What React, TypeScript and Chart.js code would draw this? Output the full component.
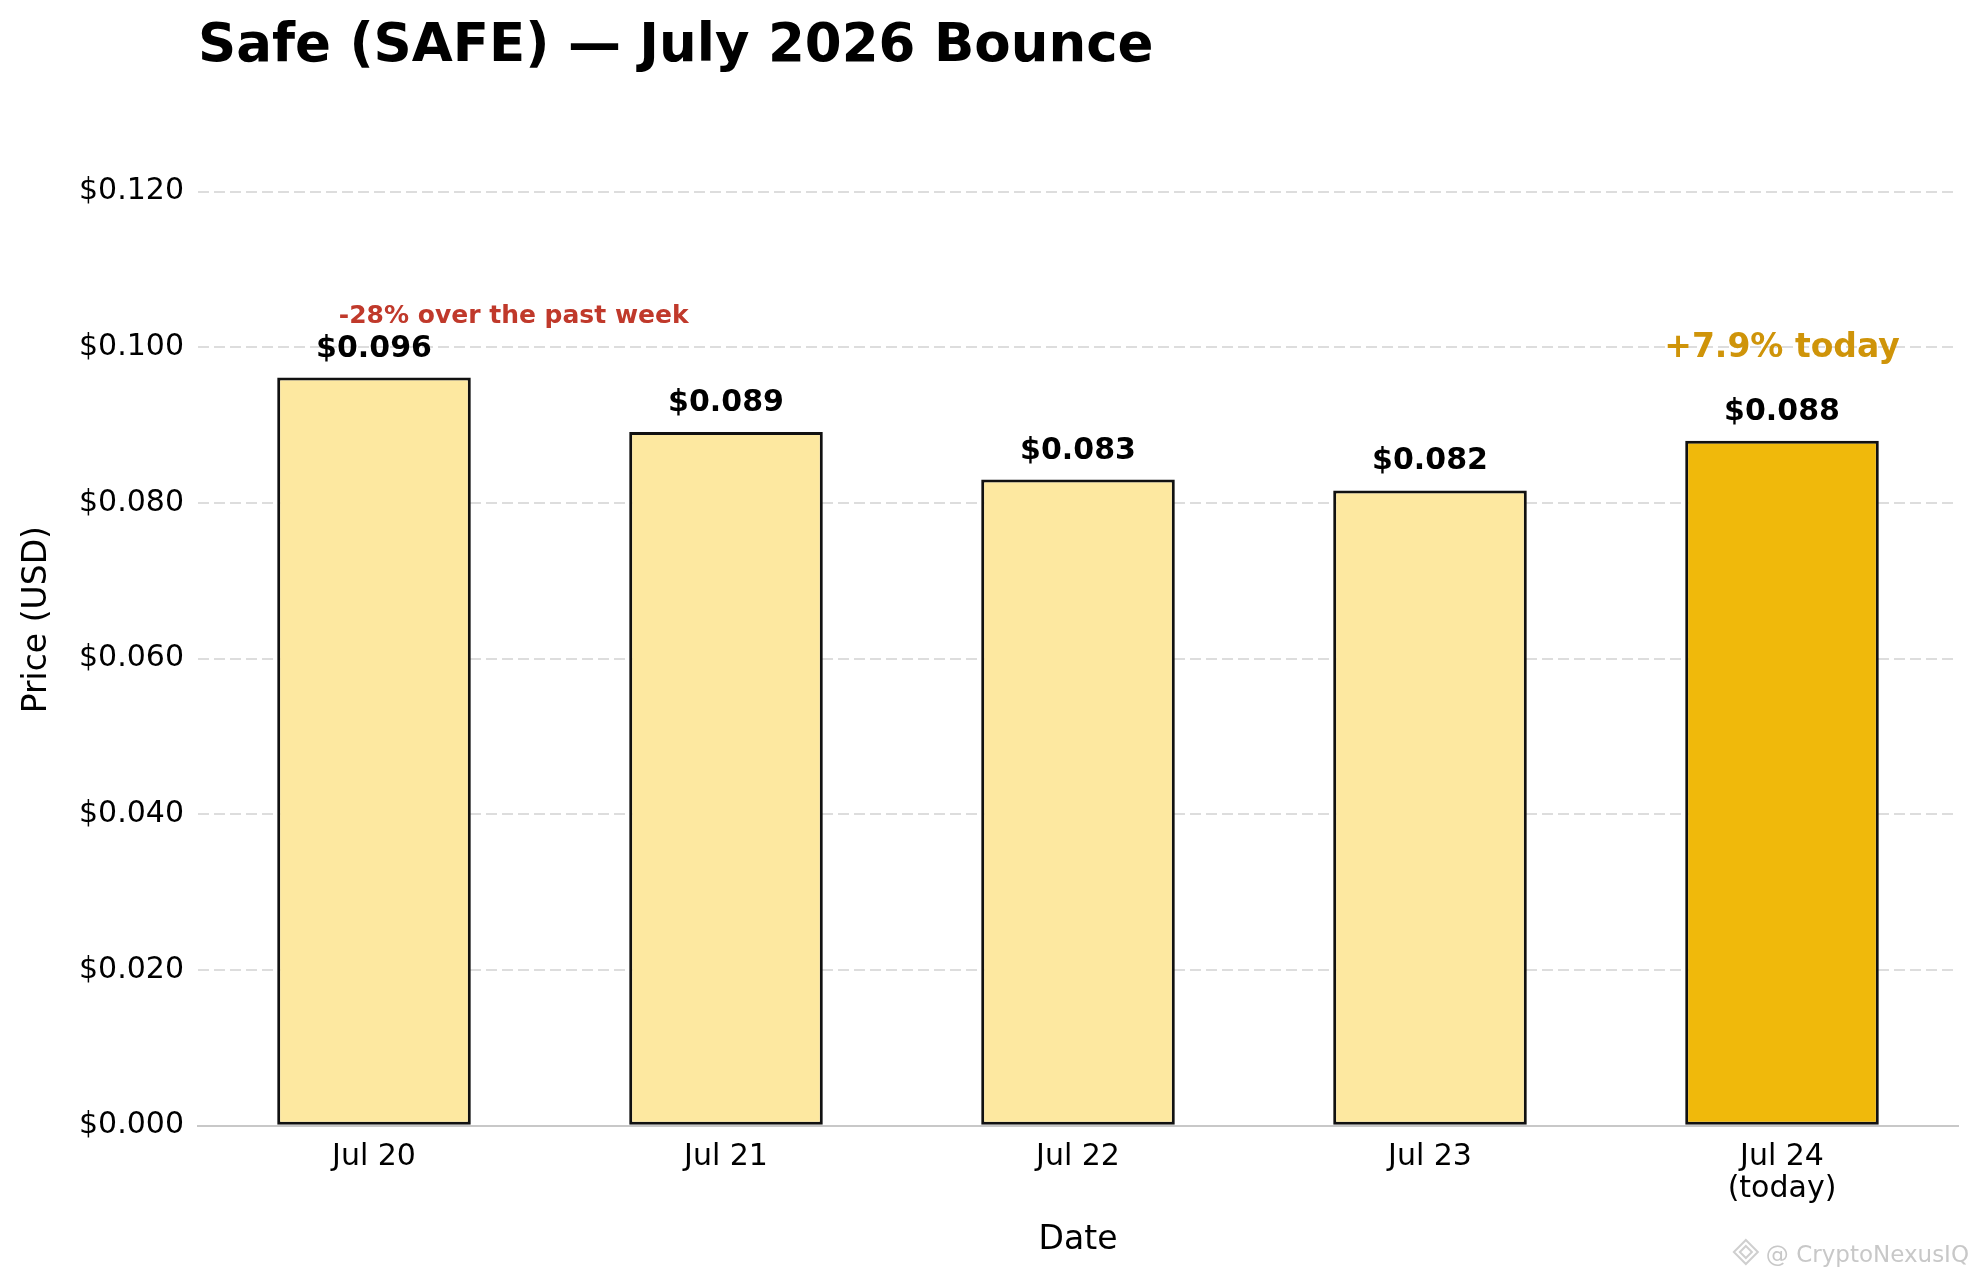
import { useEffect, useRef } from 'react';
import { Chart, registerables } from 'chart.js';

Chart.register(...registerables);

const chartTitle = 'Safe (SAFE) — July 2026 Bounce';
const dates = ['Jul 20', 'Jul 21', 'Jul 22', 'Jul 23', ['Jul 24', '(today)']];
const prices = [0.0961, 0.0891, 0.083, 0.0816, 0.088];
const barColors = ['#fde8a0', '#fde8a0', '#fde8a0', '#fde8a0', '#f0b90b'];
const yTicks = [0, 0.02, 0.04, 0.06, 0.08, 0.1, 0.12];
const weekNote = '-28% over the past week';
const weekNoteY = 0.1031;
const todayNote = '+7.9% today';
const todayNoteY = 0.0987;
const watermark = '@ CryptoNexusIQ';

const FONT = '"DejaVu Sans", Verdana, sans-serif';

const overlay = {
    id: 'overlay',
    afterDatasetsDraw(chart: Chart) {
        const { ctx, chartArea } = chart;
        const x = chart.scales.x;
        const y = chart.scales.y;
        const meta = chart.getDatasetMeta(0);
        ctx.save();

        // value labels above bars
        ctx.fillStyle = '#000';
        ctx.font = `bold 30px ${FONT}`;
        ctx.textAlign = 'center';
        ctx.textBaseline = 'alphabetic';
        meta.data.forEach((bar: any, i: number) => {
            ctx.fillText(`$${prices[i].toFixed(3)}`, bar.x, bar.y - 21);
        });

        const step = x.getPixelForValue(1) - x.getPixelForValue(0);

        ctx.font = `bold 25px ${FONT}`;
        ctx.fillStyle = '#c0392b';
        ctx.textAlign = 'left';
        ctx.fillText(weekNote, x.getPixelForValue(0) - 0.1 * step, y.getPixelForValue(weekNoteY));

        ctx.font = `bold 33px ${FONT}`;
        ctx.fillStyle = '#cf9409';
        ctx.textAlign = 'center';
        ctx.fillText(todayNote, x.getPixelForValue(4), y.getPixelForValue(todayNoteY));

        // title
        ctx.font = `bold 53px ${FONT}`;
        ctx.fillStyle = '#000';
        ctx.textAlign = 'left';
        ctx.fillText(chartTitle, chartArea.left, 61);

        // watermark
        ctx.font = `23px ${FONT}`;
        ctx.fillStyle = '#c8c8c8';
        ctx.textAlign = 'right';
        ctx.fillText(watermark, chart.width - 10, 1262);
        const iconX = chart.width - 10 - ctx.measureText(watermark).width - 20;
        ctx.strokeStyle = '#cfcfcf';
        ctx.lineWidth = 2;
        ctx.beginPath();
        ctx.moveTo(iconX, 1240);
        ctx.lineTo(iconX + 12, 1252);
        ctx.lineTo(iconX, 1264);
        ctx.lineTo(iconX - 12, 1252);
        ctx.closePath();
        ctx.stroke();
        ctx.beginPath();
        ctx.moveTo(iconX, 1246);
        ctx.lineTo(iconX + 6, 1252);
        ctx.lineTo(iconX, 1258);
        ctx.lineTo(iconX - 6, 1252);
        ctx.closePath();
        ctx.stroke();

        ctx.restore();
    },
};

function PriceChart() {
    const canvasRef = useRef<HTMLCanvasElement | null>(null);

    useEffect(() => {
        if (!canvasRef.current) {
            return;
        }

        const chart = new Chart(canvasRef.current, {
            type: 'bar',
            data: {
                labels: dates,
                datasets: [
                    {
                        label: 'Price (USD)',
                        data: prices,
                        backgroundColor: barColors,
                        borderColor: '#111',
                        borderWidth: 3,
                        borderSkipped: false,
                        barPercentage: 0.55,
                        categoryPercentage: 1,
                    },
                ],
            },
            options: {
                animation: false,
                responsive: true,
                maintainAspectRatio: false,
                devicePixelRatio: 1,
                layout: { padding: { top: 113.7, right: 21, bottom: 0, left: 0 } },
                plugins: {
                    legend: { display: false },
                    tooltip: { enabled: false },
                    title: { display: false },
                },
                scales: {
                    x: {
                        grid: { display: false },
                        border: { display: true, color: '#c8c8c8', width: 2 },
                        ticks: {
                            color: '#000',
                            padding: 8,
                            font: { family: FONT, size: 30, lineHeight: 1.05 },
                        },
                        title: {
                            display: true,
                            text: 'Date',
                            color: '#000',
                            font: { family: FONT, size: 33 },
                            padding: { top: 4, bottom: 19 },
                        },
                        afterFit: (scale: any) => {
                            scale.height = 153.3;
                        },
                    },
                    y: {
                        min: 0,
                        max: 0.13,
                        grid: {
                            drawTicks: false,
                            lineWidth: 2,
                            color: (ctx: any) => (ctx.tick && ctx.tick.value === 0 ? 'rgba(0,0,0,0)' : '#dddddd'),
                        },
                        border: { display: false, dash: [11, 5] },
                        afterBuildTicks: (scale: any) => {
                            scale.ticks = yTicks.map((v) => ({ value: v }));
                        },
                        ticks: {
                            color: '#000',
                            padding: 14,
                            font: { family: FONT, size: 30 },
                            callback: (value: any) => `$${Number(value).toFixed(3)}`,
                        },
                        title: {
                            display: true,
                            text: 'Price (USD)',
                            color: '#000',
                            font: { family: FONT, size: 33 },
                            padding: { top: 18, bottom: 4 },
                        },
                        afterFit: (scale: any) => {
                            scale.width = 198;
                        },
                    },
                },
            },
            plugins: [overlay],
        });

        return () => chart.destroy();
    }, []);

    return (
        <div style={{ position: 'fixed', left: 0, top: 0, width: 1979, height: 1279, background: '#fff' }}>
            <canvas ref={canvasRef} aria-label={chartTitle} />
        </div>
    );
}

export default function App() {
    return <PriceChart />;
}
